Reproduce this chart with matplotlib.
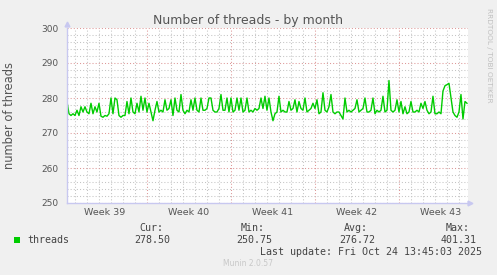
import numpy as np
import matplotlib
matplotlib.use('Agg')
import matplotlib.pyplot as plt
from matplotlib.ticker import MultipleLocator, FixedLocator

# threads, one sample every 4 hours
threads = [
    279.0, 275.5, 275.0, 275.5, 275.0, 276.5, 275.0, 277.5, 276.0, 277.5, 276.0, 275.5,
    278.5, 275.5, 277.5, 276.0, 278.5, 274.8, 274.5, 275.0, 274.8, 275.5, 280.0, 275.5,
    280.0, 279.5, 275.0, 274.5, 275.0, 275.0, 279.0, 275.5, 280.0, 276.0, 275.5, 278.5,
    276.0, 280.5, 276.5, 280.0, 276.0, 278.5, 276.0, 273.5, 276.5, 279.0, 276.0, 276.5,
    276.0, 279.5, 276.5, 277.0, 279.5, 275.0, 280.0, 276.5, 276.0, 281.0, 276.5, 275.5,
    276.5, 276.0, 279.5, 276.5, 280.0, 276.5, 276.0, 280.0, 276.5, 276.5, 277.0, 280.0,
    280.0, 276.5, 276.0, 276.0, 277.0, 281.0, 276.5, 276.5, 280.0, 276.0, 280.0, 276.0,
    276.5, 280.0, 276.5, 280.0, 276.0, 276.5, 280.0, 276.0, 276.5, 276.0, 277.0, 276.5,
    277.0, 280.0, 277.0, 280.5, 276.5, 280.0, 276.0, 273.5, 275.5, 276.0, 280.5, 276.0,
    276.5, 276.0, 276.0, 279.0, 276.5, 277.0, 279.5, 276.0, 279.0, 277.0, 276.5, 280.0,
    276.0, 276.5, 277.0, 278.5, 277.0, 279.5, 275.5, 276.0, 281.5, 276.5, 276.0, 277.5,
    281.0, 276.0, 275.5, 276.0, 276.0, 275.0, 274.0, 280.0, 276.0, 276.5, 276.0, 276.5,
    277.0, 279.5, 276.0, 276.5, 277.0, 280.0, 276.0, 276.0, 276.5, 280.0, 275.5, 276.5,
    276.0, 276.5, 280.5, 276.0, 276.5, 285.0, 276.5, 276.0, 276.5, 279.5, 276.0, 279.0,
    275.5, 277.5, 275.5, 276.0, 279.0, 276.0, 276.0, 276.5, 276.0, 278.5, 277.0, 279.0,
    276.5, 275.5, 276.0, 280.5, 275.5, 275.5, 276.0, 275.5, 282.0, 283.5, 283.8, 284.2,
    280.0, 276.0, 275.0, 274.5, 276.0, 281.0, 274.0, 279.0, 278.5,
]
week_labels = ['Week 39', 'Week 40', 'Week 41', 'Week 42', 'Week 43']
stats_heads = ['Cur:', 'Min:', 'Avg:', 'Max:']
stats_vals = ['278.50', '250.75', '276.72', '401.31']

W, H = 497, 275
fig = plt.figure(figsize=(W / 100, H / 100), dpi=100)
fig.patch.set_facecolor('#f0f0f0')

def fx(x):
    return x / W

def fy(y):
    return 1 - y / H

left, right, top, bottom = 66.5, 468, 28, 203
ax = fig.add_axes([fx(left), fy(bottom), fx(right - left), (bottom - top) / H])
ax.set_facecolor('white')

t = 0.04 + np.arange(len(threads)) / 6.0   # days
span = (right - left) / 12.0
first_monday = 6.71

ax.set_xlim(0, span)
ax.set_ylim(250, 300)

weeks = [first_monday + 7 * k for k in range(4)]
days = [d for d in np.arange(first_monday % 1, span, 1.0)]
ax.xaxis.set_major_locator(FixedLocator(weeks))
ax.xaxis.set_minor_locator(FixedLocator(days))
ax.yaxis.set_major_locator(MultipleLocator(10))
ax.yaxis.set_minor_locator(MultipleLocator(2))

ax.grid(which='minor', color='#c4c4c4', linestyle=(0, (1, 2)), linewidth=0.75)
ax.grid(which='major', color='#dd9898', linestyle=(0, (1, 2)), linewidth=0.75)
ax.set_axisbelow(True)

ax.plot(t, threads, color='#00cc00', linewidth=1.0)

ax.tick_params(which='both', length=0)
ax.set_xticklabels([])
ax.tick_params(axis='y', labelsize=6.5, labelcolor='#555555', pad=6)
for s in ['top', 'right']:
    ax.spines[s].set_visible(False)
for s in ['left', 'bottom']:
    ax.spines[s].set_color('#c8c8f0')
    ax.spines[s].set_linewidth(1.0)
ax.plot([0], [301.2], marker='^', color='#c8c8f0', markersize=3.5, clip_on=False)
ax.plot([span + 0.2], [250], marker='>', color='#c8c8f0', markersize=3.5, clip_on=False)

for i, lab in enumerate(week_labels):
    ax.text(first_monday - 3.5 + 7 * i, 247.2, lab, ha='center', va='center',
            fontsize=6.8, color='#555555')

fig.text(fx(248), fy(24), 'Number of threads - by month', ha='center', va='baseline',
         fontsize=9, color='#555555')
fig.text(fx(10), fy(115.5), 'number of threads', ha='center', va='center',
         rotation=90, fontsize=8.3, color='#555555')
fig.text(fx(488.5), fy(8), 'RRDTOOL / TOBI OETIKER', ha='center', va='top',
         rotation=270, fontsize=5.3, color='#c0c0c0')

mono = 'DejaVu Sans Mono'
fig.patches.append(plt.Rectangle((fx(14), fy(243)), fx(6), 6 / H, transform=fig.transFigure,
                                 facecolor='#00cc00', edgecolor='none'))
fig.text(fx(27), fy(240), 'threads', ha='left', va='center', family=mono,
         fontsize=7.2, color='#444444')
for head, val, xr in zip(stats_heads, stats_vals, [163, 265, 368, 470]):
    fig.text(fx(xr), fy(227.7), head, ha='right', va='center', family=mono,
             fontsize=7.2, color='#444444')
    fig.text(fx(xr + 7), fy(240), val, ha='right', va='center', family=mono,
             fontsize=7.2, color='#444444')
fig.text(fx(482), fy(251.7), 'Last update: Fri Oct 24 13:45:03 2025', ha='right',
         va='center', family=mono, fontsize=7.2, color='#444444')
fig.text(fx(248), fy(264), 'Munin 2.0.57', ha='center', va='center',
         fontsize=5.5, color='#c8c8c8')

fig.savefig('out.png', dpi=100, facecolor=fig.get_facecolor())
